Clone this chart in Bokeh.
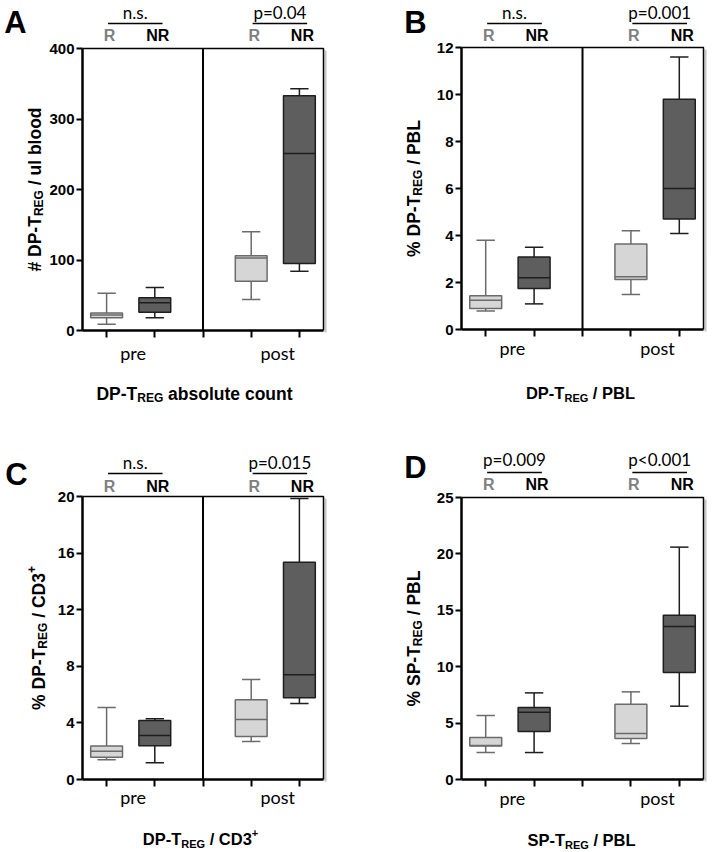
import math
from bokeh.plotting import figure
from bokeh.models import Range1d, FixedTicker, Label, Arrow, ColumnDataSource
from bokeh.layouts import column, row
from bokeh.embed import file_html
from bokeh.resources import INLINE

# ---------------- data (box stats: low whisker, Q1, median, Q3, high whisker) -------------
groups = ["R", "NR"]
timepoints = ["pre", "post"]

A_pre_R = [9, 18, 22, 25, 53]
A_pre_NR = [18, 26, 39.5, 46.5, 61]
A_post_R = [44, 70, 103, 106, 140]
A_post_NR = [84, 95, 251, 333, 343]
A_yticks = [0, 100, 200, 300, 400]
A_pvals = ["n.s.", "p=0.04"]

B_pre_R = [0.79, 0.89, 1.24, 1.44, 3.8]
B_pre_NR = [1.09, 1.74, 2.2, 3.08, 3.5]
B_post_R = [1.49, 2.13, 2.25, 3.64, 4.2]
B_post_NR = [4.09, 4.7, 6.0, 9.8, 11.6]
B_yticks = [0, 2, 4, 6, 8, 10, 12]
B_pvals = ["n.s.", "p=0.001"]

C_pre_R = [1.39, 1.58, 2.0, 2.36, 5.09]
C_pre_NR = [1.18, 2.38, 3.11, 4.17, 4.29]
C_post_R = [2.69, 3.04, 4.24, 5.63, 7.07]
C_post_NR = [5.37, 5.77, 7.4, 15.36, 19.86]
C_yticks = [0, 4, 8, 12, 16, 20]
C_pvals = ["n.s.", "p=0.015"]

D_pre_R = [2.39, 2.96, 3.01, 3.72, 5.67]
D_pre_NR = [2.39, 4.26, 5.97, 6.38, 7.68]
D_post_R = [3.19, 3.63, 4.08, 6.68, 7.77]
D_post_NR = [6.5, 9.49, 13.56, 14.57, 20.6]
D_yticks = [0, 5, 10, 15, 20, 25]
D_pvals = ["p=0.009", "p<0.001"]

A_ylabel = [("# DP-T", "n"), ("REG", "sub"), (" / ul blood", "n")]
A_xtitle = [("DP-T", "n"), ("REG", "sub"), (" absolute count", "n")]
B_ylabel = [("% DP-T", "n"), ("REG", "sub"), (" / PBL", "n")]
B_xtitle = [("DP-T", "n"), ("REG", "sub"), (" / PBL", "n")]
C_ylabel = [("% DP-T", "n"), ("REG", "sub"), (" / CD3", "n"), ("+", "sup")]
C_xtitle = [("DP-T", "n"), ("REG", "sub"), (" / CD3", "n"), ("+", "sup")]
D_ylabel = [("% SP-T", "n"), ("REG", "sub"), (" / PBL", "n")]
D_xtitle = [("SP-T", "n"), ("REG", "sub"), (" / PBL", "n")]

# ---------------- styling --------------------------------------------------------------
LIGHT_FILL, LIGHT_LINE = "#d6d6d6", "#6b6b6b"
DARK_FILL, DARK_LINE = "#5e5e5e", "#1e1e1e"
BOLD = "Liberation Sans"
REG = "Lato"

# Arial/Liberation Sans Bold advance widths (per 1000 em)
WID = {' ': 278, '#': 556, '%': 889, '+': 584, '-': 333, '/': 278, '3': 556,
       'B': 722, 'C': 722, 'D': 722, 'E': 667, 'G': 778, 'L': 611, 'P': 667,
       'R': 722, 'S': 667, 'T': 611, 'a': 556, 'b': 611, 'c': 556, 'd': 611,
       'e': 556, 'l': 278, 'n': 611, 'o': 611, 's': 556, 't': 333, 'u': 611}


def twidth(s, size):
    return sum(WID.get(ch, 556) for ch in s) * size / 1000.0


def make_panel(letter, stats, yticks, pvals, ylabel, xtitle, fig, frame, lay):
    fx, fy, fw, fh = fig
    lx, ty, w, h = frame
    ymax = yticks[-1]
    left_px = lx - fx
    top_px = ty - fy
    x0r = 0.5 - left_px / w * 5.0
    x1r = 5.5 + (fw - left_px - w) / w * 5.0
    y1r = ymax + top_px / h * ymax
    y0r = -(fh - top_px - h) / h * ymax
    p = figure(width=fw, height=fh, x_range=Range1d(x0r, x1r), y_range=Range1d(y0r, y1r),
               output_backend="svg", toolbar_location=None, tools="",
               min_border=0, min_border_left=0, min_border_right=0,
               min_border_top=0, min_border_bottom=0)
    p.grid.visible = False
    p.background_fill_color = "white"
    p.border_fill_color = "white"
    p.outline_line_color = None

    def dx(px):
        return 0.5 + (px - lx) / w * 5.0

    def dy(py):
        return ymax * (ty + h - py) / h

    # axes placed at the plot box edges
    p.yaxis.fixed_location = 0.5
    p.yaxis.bounds = (0, ymax)
    p.yaxis.ticker = FixedTicker(ticks=yticks)
    p.yaxis.axis_line_width = 2.5
    p.yaxis.major_tick_line_width = 2
    p.yaxis.major_tick_out = 6
    p.yaxis.major_tick_in = 0
    p.yaxis.minor_tick_line_color = None
    p.yaxis.major_label_text_font = BOLD
    p.yaxis.major_label_text_font_style = "bold"
    p.yaxis.major_label_text_font_size = "15px"
    p.yaxis.major_label_text_color = "black"
    p.yaxis.major_label_standoff = 2
    p.xaxis.fixed_location = 0
    p.xaxis.bounds = (0.5, 5.5)
    p.xaxis.ticker = FixedTicker(ticks=[1, 2, 3, 4, 5])
    p.xaxis.axis_line_width = 2.5
    p.xaxis.major_tick_line_width = 2
    p.xaxis.major_tick_out = 7
    p.xaxis.major_tick_in = 0
    p.xaxis.minor_tick_line_color = None
    p.xaxis.major_label_overrides = {1: "", 2: "", 3: "", 4: "", 5: ""}

    # plot box (top / right edges) with soft shadow, and divider
    sh = 2.0 / w * 5.0
    p.line(x=[5.5 + sh, 5.5 + sh], y=[ymax * (1 - 2.0 / h), -ymax * 2.0 / h],
           line_color="#c4c4c4", line_width=2)
    p.line(x=[0.5, 5.5, 5.5], y=[ymax, ymax, 0], line_color="black", line_width=1.5)
    if lay["divider"]:
        p.line(x=[3, 3], y=[0, ymax], line_color="black", line_width=2)

    # boxes
    xs, lo, q1, med, q3, hi, fill, line = [], [], [], [], [], [], [], []
    for ti, tp in enumerate(timepoints):
        for gi, g in enumerate(groups):
            s = stats[ti * 2 + gi]
            xs.append(1 + 3 * ti + gi)
            lo.append(s[0]); q1.append(s[1]); med.append(s[2]); q3.append(s[3]); hi.append(s[4])
            fill.append(LIGHT_FILL if g == "R" else DARK_FILL)
            line.append(LIGHT_LINE if g == "R" else DARK_LINE)
    src = ColumnDataSource(dict(x=xs, lo=lo, q1=q1, med=med, q3=q3, hi=hi, fill=fill, line=line,
                                cl=[x - 0.19 for x in xs], cr=[x + 0.19 for x in xs],
                                bl=[x - 0.33 for x in xs], br=[x + 0.33 for x in xs]))
    p.segment(x0="x", y0="q3", x1="x", y1="hi", source=src, line_color="line", line_width=1.5)
    p.segment(x0="x", y0="lo", x1="x", y1="q1", source=src, line_color="line", line_width=1.5)
    p.segment(x0="cl", y0="hi", x1="cr", y1="hi", source=src, line_color="line", line_width=1.5)
    p.segment(x0="cl", y0="lo", x1="cr", y1="lo", source=src, line_color="line", line_width=1.5)
    p.vbar(x="x", width=0.66, top="q3", bottom="q1", source=src, fill_color="fill",
           line_color="line", line_width=1.5)
    p.segment(x0="bl", y0="med", x1="br", y1="med", source=src, line_color="line", line_width=1.5)

    # panel letter
    p.add_layout(Label(x=dx(lay["letter"][0]), y=dy(lay["letter"][1]), text=letter,
                       text_align="center", text_baseline="middle", text_font=BOLD,
                       text_font_style="bold", text_font_size="31px", text_color="black"))

    top = ty
    for ti, tp in enumerate(timepoints):
        xr = 1 + 3 * ti
        xn = xr + 1
        for gx, g, col in ((xr, "R", "#7f7f7f"), (xn, "NR", "black")):
            p.add_layout(Label(x=gx, y=dy(top - lay["grp"]), x_offset=3, text=g,
                               text_align="center", text_baseline="middle", text_font=BOLD,
                               text_font_style="bold", text_font_size="16px", text_color=col))
        x0, x1 = xr + 0.03, xn + 0.16
        yl = dy(top - lay["bar"])
        p.add_layout(Arrow(start=None, end=None, x_start=x0, y_start=yl, x_end=x1, y_end=yl,
                           line_color="black", line_width=1.5))
        p.add_layout(Label(x=(x0 + x1) / 2, y=dy(top - lay["pv"]), text=pvals[ti],
                           text_align="center", text_baseline="middle", text_font=REG,
                           text_font_size="17px", text_color="black"))
        p.add_layout(Label(x=(xr + xn) / 2 + 0.05, y=dy(ty + h + lay["tp"]), text=tp,
                           text_align="center", text_baseline="middle", text_font=REG,
                           text_font_size="18px", text_color="black"))

    def rich(segments, cxp, cyp, size, vertical):
        sub = round(size * 0.68)
        widths = [twidth(t, size if k == "n" else sub) for t, k in segments]
        total = sum(widths)
        pos = -total / 2.0
        cap = 0.716 * size
        for (t, k), wd in zip(segments, widths):
            fs = size if k == "n" else sub
            lead = len(t) - len(t.lstrip(" "))
            start = pos + twidth(" " * lead, fs)
            shift = 0.0 if k == "n" else (-0.26 * size if k == "sub" else 0.4 * size)
            if vertical:
                xo, yo, ang = cap / 2 - shift, start, math.pi / 2
            else:
                xo, yo, ang = start, -cap / 2 + shift, 0
            p.add_layout(Label(x=dx(cxp), y=dy(cyp), x_offset=xo, y_offset=yo, angle=ang,
                               text=t.strip(" "), text_align="left", text_baseline="alphabetic",
                               text_font=BOLD, text_font_style="bold",
                               text_font_size=f"{fs}px", text_color="black"))
            pos += wd

    rich(ylabel, lx - lay["ylab"], ty + h / 2, 17.5, True)
    rich(xtitle, lay["xt_x"], ty + h + lay["xt"], lay["xt_size"], False)
    return p


pA = make_panel("A", [A_pre_R, A_pre_NR, A_post_R, A_post_NR], A_yticks, A_pvals, A_ylabel, A_xtitle,
                (0, 0, 356, 428), (82, 48, 241, 282),
                dict(divider=True, letter=(15, 22), grp=13, bar=25, pv=36, tp=22, xt=57, xt_x=194,
                     xt_size=17.5, ylab=54))
pB = make_panel("B", [B_pre_R, B_pre_NR, B_post_R, B_post_NR], B_yticks, B_pvals, B_ylabel, B_xtitle,
                (356, 0, 356, 428), (461, 47, 242, 282),
                dict(divider=True, letter=(415, 22), grp=12, bar=24, pv=35, tp=18, xt=58, xt_x=580,
                     xt_size=16.5, ylab=54))
pC = make_panel("C", [C_pre_R, C_pre_NR, C_post_R, C_post_NR], C_yticks, C_pvals, C_ylabel, C_xtitle,
                (0, 428, 356, 423), (82, 496, 241, 283),
                dict(divider=True, letter=(16, 474), grp=10, bar=23, pv=34, tp=17, xt=54, xt_x=200,
                     xt_size=16.5, ylab=50))
pD = make_panel("D", [D_pre_R, D_pre_NR, D_post_R, D_post_NR], D_yticks, D_pvals, D_ylabel, D_xtitle,
                (356, 428, 356, 423), (461, 497, 242, 282),
                dict(divider=False, letter=(415, 467), grp=13, bar=25, pv=38, tp=18, xt=55, xt_x=581,
                     xt_size=16.5, ylab=54))

layout = column(row(pA, pB), row(pC, pD))
open("out.html", "w").write(file_html(layout, INLINE))
